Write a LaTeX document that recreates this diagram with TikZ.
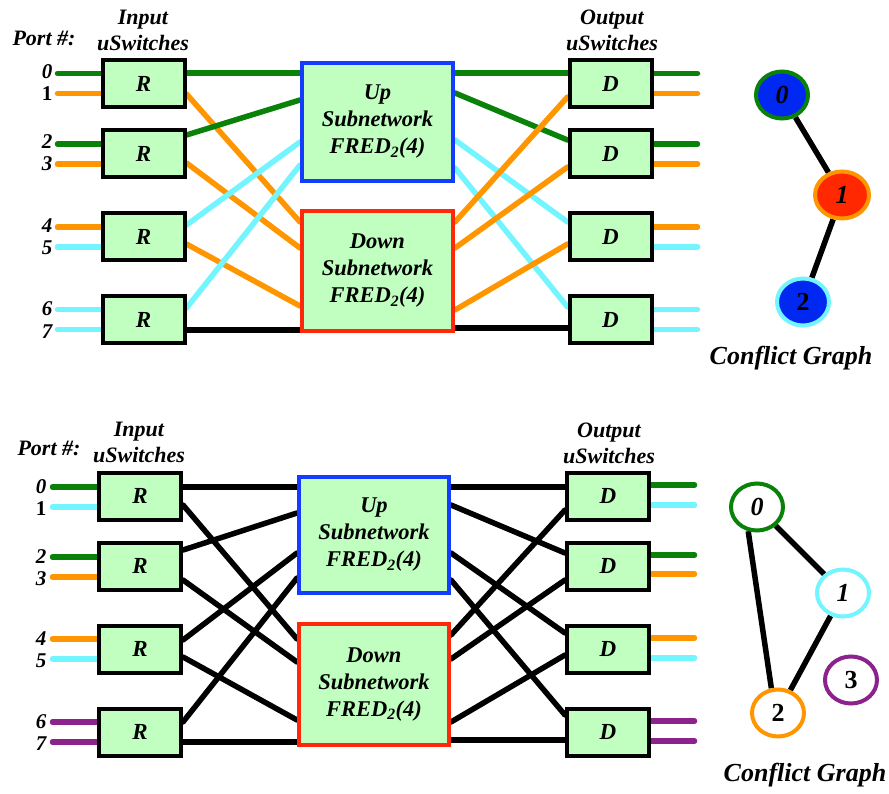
\documentclass[tikz,border=0pt]{standalone}
\usepackage{fontspec}
\setmainfont{Liberation Serif}
\usetikzlibrary{calc,shapes.geometric}
\pgfdeclarelayer{bg}
\pgfsetlayers{bg,main}
\definecolor{grn}{RGB}{10,130,10}
\definecolor{org}{RGB}{255,150,0}
\definecolor{cyn}{RGB}{115,245,255}
\definecolor{pur}{RGB}{140,35,140}
\definecolor{boxfill}{RGB}{192,255,192}
\definecolor{upblue}{RGB}{20,60,255}
\definecolor{dnred}{RGB}{255,40,10}
\definecolor{nblue}{RGB}{0,40,240}
\definecolor{nred}{RGB}{255,40,0}
\begin{document}
\begin{tikzpicture}[x=1pt,y=-1pt,
  sw/.style={draw=black,line width=4pt,fill=boxfill,minimum width=82pt,minimum height=47pt,inner sep=0pt,font=\fontsize{23}{27}\selectfont\bfseries\itshape},
  sub/.style={line width=4pt,fill=boxfill,minimum width=151pt,inner sep=0pt,align=center,font=\fontsize{22.5}{27}\selectfont\bfseries\itshape},
  wire/.style={line width=5.5pt,line cap=round},
  lbl/.style={font=\fontsize{22}{26}\selectfont\bfseries\itshape,inner sep=0pt,align=center},
  pn/.style={font=\fontsize{21}{21}\selectfont\bfseries\itshape,inner sep=0pt,text height=14pt,text depth=0pt},
  cg/.style={font=\fontsize{26}{26}\selectfont\bfseries\itshape,inner sep=0pt},
  gn/.style={ellipse,line width=4pt,minimum width=52pt,minimum height=47pt,inner sep=0pt,font=\fontsize{26}{26}\selectfont\bfseries\itshape},
  ge/.style={line width=5.5pt}
]
\useasboundingbox (0,0) rectangle (889,794);

% ================= TOP PANEL =================
\node[lbl] (tport) at (44,38) {Port \#:};
\node[lbl] (tin) at (143,30) {Input\\uSwitches};
\node[lbl] (tout) at (612,30) {Output\\uSwitches};

\node[sw] (r1) at (143.5,83.5) {R};
\node[sw] (r2) at (143.5,154) {R};
\node[sw] (r3) at (143.5,237) {R};
\node[sw] (r4) at (143.5,319.5) {R};
\node[sw] (d1) at (610.5,83.5) {D};
\node[sw] (d2) at (610.5,154) {D};
\node[sw] (d3) at (610.5,237) {D};
\node[sw] (d4) at (610.5,319.5) {D};
\node[sub,draw=upblue,minimum height=118pt] (up) at (377.5,122) {Up\\Subnetwork\\FRED\textsubscript{2}(4)};
\node[sub,draw=dnred,minimum height=120pt] (dn) at (377.5,271) {Down\\Subnetwork\\FRED\textsubscript{2}(4)};

\node[pn] (tp0) at (47,72) {0};
\node[pn] (tp1) at (47,94) {\upshape 1};
\node[pn] (tp2) at (47,142) {2};
\node[pn] (tp3) at (47,164) {3};
\node[pn] (tp4) at (47,226) {4};
\node[pn] (tp5) at (47,248) {5};
\node[pn] (tp6) at (47,309) {6};
\node[pn] (tp7) at (47,331) {7};

\begin{pgfonlayer}{bg}
% input stubs
\draw[wire,grn] ($(r1.west)+(0,-10)$) -- ++(-43,0);
\draw[wire,org] ($(r1.west)+(0,10)$) -- ++(-43,0);
\draw[wire,grn] ($(r2.west)+(0,-10)$) -- ++(-43,0);
\draw[wire,org] ($(r2.west)+(0,10)$) -- ++(-43,0);
\draw[wire,org] ($(r3.west)+(0,-10)$) -- ++(-43,0);
\draw[wire,cyn] ($(r3.west)+(0,10)$) -- ++(-43,0);
\draw[wire,cyn] ($(r4.west)+(0,-10)$) -- ++(-43,0);
\draw[wire,cyn] ($(r4.west)+(0,10)$) -- ++(-43,0);
% output stubs
\draw[wire,grn] ($(d1.east)+(0,-10)$) -- ++(44,0);
\draw[wire,org] ($(d1.east)+(0,10)$) -- ++(44,0);
\draw[wire,grn] ($(d2.east)+(0,-10)$) -- ++(44,0);
\draw[wire,org] ($(d2.east)+(0,10)$) -- ++(44,0);
\draw[wire,org] ($(d3.east)+(0,-10)$) -- ++(44,0);
\draw[wire,cyn] ($(d3.east)+(0,10)$) -- ++(44,0);
\draw[wire,cyn] ($(d4.east)+(0,-10)$) -- ++(44,0);
\draw[wire,cyn] ($(d4.east)+(0,10)$) -- ++(44,0);
% left network
\draw[wire,grn] ($(r1.east)+(0,-10.5)$) -- ($(up.west)+(0,-49)$);
\draw[wire,org] ($(r1.east)+(0,10.5)$) -- ($(dn.west)+(0,-49)$);
\draw[wire,grn] ($(r2.east)+(0,-19)$) -- ($(up.west)+(0,-22)$);
\draw[wire,org] ($(r2.east)+(0,9)$) -- ($(dn.west)+(0,-23)$);
\draw[wire,cyn] ($(r3.east)+(0,-12)$) -- ($(up.west)+(0,20)$);
\draw[wire,org] ($(r3.east)+(0,7)$) -- ($(dn.west)+(0,35)$);
\draw[wire,cyn] ($(r4.east)+(0,-11.5)$) -- ($(up.west)+(0,43)$);
\draw[wire,black] ($(r4.east)+(0,10.5)$) -- ($(dn.west)+(0,59)$);
% right network
\draw[wire,grn] ($(up.east)+(0,-49)$) -- ($(d1.west)+(0,-10.5)$);
\draw[wire,grn] ($(up.east)+(0,-29)$) -- ($(d2.west)+(0,-14)$);
\draw[wire,cyn] ($(up.east)+(0,18)$) -- ($(d3.west)+(0,-15)$);
\draw[wire,cyn] ($(up.east)+(0,46)$) -- ($(d4.west)+(0,-12.5)$);
\draw[wire,org] ($(dn.east)+(0,-49)$) -- ($(d1.west)+(0,13.5)$);
\draw[wire,org] ($(dn.east)+(0,-23)$) -- ($(d2.west)+(0,13)$);
\draw[wire,org] ($(dn.east)+(0,39)$) -- ($(d3.west)+(0,7)$);
\draw[wire,black] ($(dn.east)+(0,57)$) -- ($(d4.west)+(0,8.5)$);
\end{pgfonlayer}

% conflict graph top
\node[gn,draw=grn,fill=nblue] (g0) at (782,95) {0};
\node[gn,draw=org,fill=nred,minimum width=54pt] (g1) at (842,195) {1};
\node[gn,draw=cyn,fill=nblue] (g2) at (803,302) {\upshape 2};
\begin{pgfonlayer}{bg}
\draw[ge] (g0) -- (g1);
\draw[ge] (g1) -- (g2);
\end{pgfonlayer}
\node[cg] (tcg) at (791,358) {Conflict Graph};

% ================= BOTTOM PANEL =================
\node[lbl] (bport) at (49,448) {Port \#:};
\node[lbl] (bin) at (139,442) {Input\\uSwitches};
\node[lbl] (bout) at (609,443) {Output\\uSwitches};

\node[sw] (s1) at (140,496) {R};
\node[sw] (s2) at (140,566) {R};
\node[sw] (s3) at (140,649) {R};
\node[sw] (s4) at (140,732) {R};
\node[sw] (e1) at (608,496) {D};
\node[sw] (e2) at (608,566) {D};
\node[sw] (e3) at (608,649) {D};
\node[sw] (e4) at (608,732) {D};
\node[sub,draw=upblue,minimum width=150pt,minimum height=116pt] (bup) at (374,535) {Up\\Subnetwork\\FRED\textsubscript{2}(4)};
\node[sub,draw=dnred,minimum width=150pt,minimum height=121pt] (bdn) at (374,684.5) {Down\\Subnetwork\\FRED\textsubscript{2}(4)};

\node[pn] (bp0) at (41,486) {0};
\node[pn] (bp1) at (41,508) {\upshape 1};
\node[pn] (bp2) at (41,556) {2};
\node[pn] (bp3) at (41,578) {3};
\node[pn] (bp4) at (41,638) {4};
\node[pn] (bp5) at (41,660) {5};
\node[pn] (bp6) at (41,721) {6};
\node[pn] (bp7) at (41,743) {7};

\begin{pgfonlayer}{bg}
\draw[wire,grn] ($(s1.west)+(0,-9)$) -- ++(-44.5,0);
\draw[wire,cyn] ($(s1.west)+(0,11)$) -- ++(-44.5,0);
\draw[wire,grn] ($(s2.west)+(0,-9)$) -- ++(-44.5,0);
\draw[wire,org] ($(s2.west)+(0,11)$) -- ++(-44.5,0);
\draw[wire,org] ($(s3.west)+(0,-10)$) -- ++(-44.5,0);
\draw[wire,cyn] ($(s3.west)+(0,10)$) -- ++(-44.5,0);
\draw[wire,pur] ($(s4.west)+(0,-10)$) -- ++(-44.5,0);
\draw[wire,pur] ($(s4.west)+(0,10)$) -- ++(-44.5,0);
\draw[wire,grn] ($(e1.east)+(0,-11)$) -- ++(43.5,0);
\draw[wire,cyn] ($(e1.east)+(0,9)$) -- ++(43.5,0);
\draw[wire,grn] ($(e2.east)+(0,-11)$) -- ++(43.5,0);
\draw[wire,org] ($(e2.east)+(0,8)$) -- ++(43.5,0);
\draw[wire,org] ($(e3.east)+(0,-11)$) -- ++(43.5,0);
\draw[wire,cyn] ($(e3.east)+(0,9)$) -- ++(43.5,0);
\draw[wire,pur] ($(e4.east)+(0,-11)$) -- ++(43.5,0);
\draw[wire,pur] ($(e4.east)+(0,9)$) -- ++(43.5,0);
% left network
\draw[wire] ($(s1.east)+(0,-9)$) -- ($(bup.west)+(0,-48)$);
\draw[wire] ($(s1.east)+(0,9)$) -- ($(bdn.west)+(0,-45.5)$);
\draw[wire] ($(s2.east)+(0,-16)$) -- ($(bup.west)+(0,-22)$);
\draw[wire] ($(s2.east)+(0,14)$) -- ($(bdn.west)+(0,-22.5)$);
\draw[wire] ($(s3.east)+(0,-9)$) -- ($(bup.west)+(0,18)$);
\draw[wire] ($(s3.east)+(0,8)$) -- ($(bdn.west)+(0,35.5)$);
\draw[wire] ($(s4.east)+(0,-10)$) -- ($(bup.west)+(0,43)$);
\draw[wire] ($(s4.east)+(0,10)$) -- ($(bdn.west)+(0,57.5)$);
% right network
\draw[wire] ($(bup.east)+(0,-48)$) -- ($(e1.west)+(0,-9)$);
\draw[wire] ($(bup.east)+(0,-30)$) -- ($(e2.west)+(0,-13)$);
\draw[wire] ($(bup.east)+(0,18)$) -- ($(e3.west)+(0,-16)$);
\draw[wire] ($(bup.east)+(0,45)$) -- ($(e4.west)+(0,-17)$);
\draw[wire] ($(bdn.east)+(0,-49.5)$) -- ($(e1.west)+(0,14)$);
\draw[wire] ($(bdn.east)+(0,-25.5)$) -- ($(e2.west)+(0,14)$);
\draw[wire] ($(bdn.east)+(0,37.5)$) -- ($(e3.west)+(0,6)$);
\draw[wire] ($(bdn.east)+(0,55.5)$) -- ($(e4.west)+(0,8)$);
\end{pgfonlayer}

% conflict graph bottom
\node[gn,draw=grn,fill=white] (h0) at (757,507) {0};
\node[gn,draw=cyn,fill=white] (h1) at (843,593) {1};
\node[gn,draw=org,fill=white] (h2) at (778,713) {\upshape 2};
\node[gn,draw=pur,fill=white] (h3) at (851,680) {\upshape 3};
\begin{pgfonlayer}{bg}
\draw[ge] (h0) -- (h1);
\draw[ge] (h0.250) -- (h2.105);
\draw[ge] (h1) -- (h2);
\end{pgfonlayer}
\node[cg] (bcg) at (805,775) {Conflict Graph};
\end{tikzpicture}
\end{document}
